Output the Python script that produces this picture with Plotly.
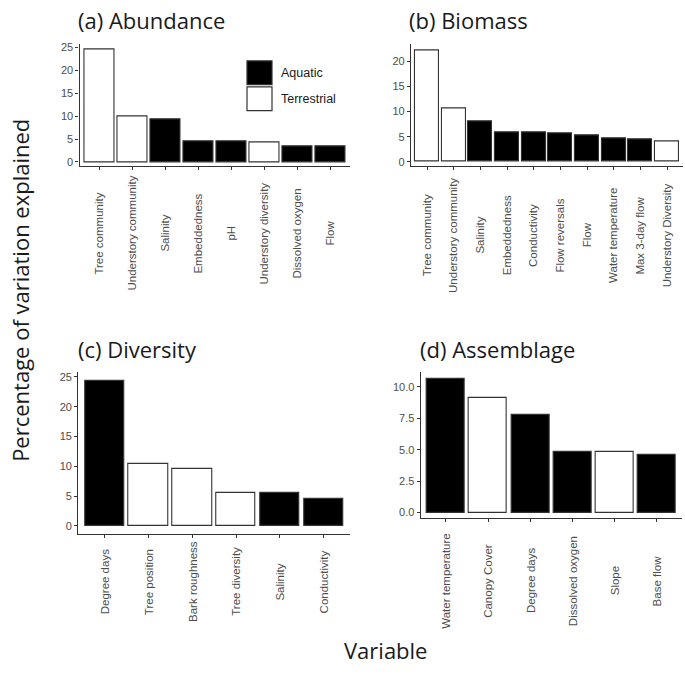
import plotly.graph_objects as go

W, H = 685, 679

# ---------------- data ----------------
abund_vars = ["Tree community", "Understory community", "Salinity", "Embeddedness",
              "pH", "Understory diversity", "Dissolved oxygen", "Flow"]
abund_vals = [24.7, 9.9, 9.2, 4.5, 4.5, 4.2, 3.5, 3.3]
abund_type = ["Terrestrial", "Terrestrial", "Aquatic", "Aquatic",
              "Aquatic", "Terrestrial", "Aquatic", "Aquatic"]

biom_vars = ["Tree community", "Understory community", "Salinity", "Embeddedness",
             "Conductivity", "Flow reversals", "Flow", "Water temperature",
             "Max 3-day flow", "Understory Diversity"]
biom_vals = [22.3, 10.6, 8.0, 5.9, 5.9, 5.6, 5.2, 4.75, 4.55, 4.1]
biom_type = ["Terrestrial", "Terrestrial", "Aquatic", "Aquatic", "Aquatic",
             "Aquatic", "Aquatic", "Aquatic", "Aquatic", "Terrestrial"]

div_vars = ["Degree days", "Tree position", "Bark roughness", "Tree diversity",
            "Salinity", "Conductivity"]
div_vals = [24.4, 10.45, 9.5, 5.5, 5.5, 4.45]
div_type = ["Aquatic", "Terrestrial", "Terrestrial", "Terrestrial", "Aquatic", "Aquatic"]

assem_vars = ["Water temperature", "Canopy Cover", "Degree days", "Dissolved oxygen",
              "Slope", "Base flow"]
assem_vals = [10.6, 9.13, 7.75, 4.84, 4.84, 4.58]
assem_type = ["Aquatic", "Terrestrial", "Aquatic", "Aquatic", "Terrestrial", "Aquatic"]

abund_ticks = [0, 5, 10, 15, 20, 25]
biom_ticks = [0, 5, 10, 15, 20]
div_ticks = [0, 5, 10, 15, 20, 25]
assem_ticks = [0.0, 2.5, 5.0, 7.5, 10.0]

legend_groups = ["Aquatic", "Terrestrial"]

# ---------------- style ----------------
FILL = {"Aquatic": "black", "Terrestrial": "white"}
OUTLINE = "#333333"
AXIS_COL = "#333333"
SANS = "Arial, Liberation Sans, sans-serif"
TICK_FONT = dict(family=SANS, size=11, color="#4d4d4d")
TITLE_FONT = dict(family="Open Sans, sans-serif", size=22, color="#1a1a1a")


def fx(p):
    return p / W


def fy(p):
    return 1 - p / H


panels = [
    dict(title="(a) Abundance", cats=abund_vars, vals=abund_vals, types=abund_type,
         ticks=abund_ticks, fmt="d", xdom=(79.5, 350), ydom=(41.7, 164),
         yrange=(-0.85, 25.7), tpos=(76, 17), laby=232, labsize=11.5),
    dict(title="(b) Biomass", cats=biom_vars, vals=biom_vals, types=biom_type,
         ticks=biom_ticks, fmt="d", xdom=(411, 683), ydom=(41.7, 164),
         yrange=(-0.8, 23.4), tpos=(407, 17), laby=234, labsize=11.5),
    dict(title="(c) Diversity", cats=div_vars, vals=div_vals, types=div_type,
         ticks=div_ticks, fmt="d", xdom=(78.3, 350), ydom=(371.7, 535),
         yrange=(-1.38, 25.83), tpos=(76, 349), laby=583, labsize=11.5),
    dict(title="(d) Assemblage", cats=assem_vars, vals=assem_vals, types=assem_type,
         ticks=assem_ticks, fmt=".1f", xdom=(420.7, 682), ydom=(371.7, 519),
         yrange=(-0.45, 11.18), tpos=(418, 349), laby=582, labsize=11.5),
]

fig = go.Figure()
annotations = []

for i, p in enumerate(panels):
    s = "" if i == 0 else str(i + 1)
    fig.add_trace(go.Bar(
        x=p["cats"], y=p["vals"], width=0.9,
        marker=dict(color=[FILL[t] for t in p["types"]],
                    line=dict(color=OUTLINE, width=1.1)),
        xaxis="x" + s, yaxis="y" + s, showlegend=False,
        hovertext=p["types"],
    ))
    n = len(p["cats"])
    fig.layout["xaxis" + s] = dict(
        domain=[fx(p["xdom"][0]), fx(p["xdom"][1])], anchor="y" + s,
        type="category", range=[-0.6, n - 0.4],
        showline=True, linecolor=AXIS_COL, linewidth=1.3,
        ticks="outside", ticklen=3, tickwidth=1, tickcolor=AXIS_COL,
        showticklabels=False, showgrid=False, zeroline=False, fixedrange=True,
    )
    fig.layout["yaxis" + s] = dict(
        domain=[fy(p["ydom"][1]), fy(p["ydom"][0])], anchor="x" + s,
        range=list(p["yrange"]), tickvals=p["ticks"], tickformat=p["fmt"],
        showline=True, linecolor=AXIS_COL, linewidth=1.3,
        ticks="outside", ticklen=3, tickwidth=1, tickcolor=AXIS_COL,
        tickfont=TICK_FONT, showgrid=False, zeroline=False, fixedrange=True,
    )
    # panel title
    annotations.append(dict(
        x=fx(p["tpos"][0]), y=fy(p["tpos"][1]), xref="paper", yref="paper",
        text=p["title"], showarrow=False, xanchor="left", yanchor="middle",
        font=TITLE_FONT,
    ))
    # centred rotated category labels (ggplot style)
    for c in p["cats"]:
        annotations.append(dict(
            x=c, y=fy(p["laby"]), xref="x" + s, yref="paper", text=c,
            textangle=-90, showarrow=False, xanchor="center", yanchor="middle",
            font=dict(family=SANS, size=p["labsize"], color="#4d4d4d"),
        ))

# axis titles
annotations.append(dict(
    x=fx(20), y=fy(290), xref="paper", yref="paper",
    text="Percentage of variation explained", textangle=-90, showarrow=False,
    xanchor="center", yanchor="middle", font=TITLE_FONT,
))
annotations.append(dict(
    x=fx(385), y=fy(652), xref="paper", yref="paper", text="Variable",
    showarrow=False, xanchor="center", yanchor="middle", font=TITLE_FONT,
))

# legend (panel a) built from the group list
shapes = []
key_tops = [58.3, 84.5]
for g, top in zip(legend_groups, key_tops):
    shapes.append(dict(
        type="rect", xref="paper", yref="paper",
        x0=fx(247), x1=fx(272), y0=fy(top + 24), y1=fy(top),
        fillcolor=FILL[g], line=dict(color=OUTLINE, width=1.2),
    ))
    annotations.append(dict(
        x=fx(279), y=fy(top + 12.5), xref="paper", yref="paper", text=g,
        showarrow=False, xanchor="left", yanchor="middle",
        font=dict(family=SANS, size=12.5, color="#1a1a1a"),
    ))

fig.update_layout(
    width=W, height=H,
    margin=dict(l=0, r=0, t=0, b=0),
    paper_bgcolor="white", plot_bgcolor="white",
    annotations=annotations, shapes=shapes,
    showlegend=False, bargap=0,
)

fig.write_html(
    "out.html",
    config={"displayModeBar": False},
    post_script="document.body.style.margin='0px';document.body.style.overflow='hidden';",
)
